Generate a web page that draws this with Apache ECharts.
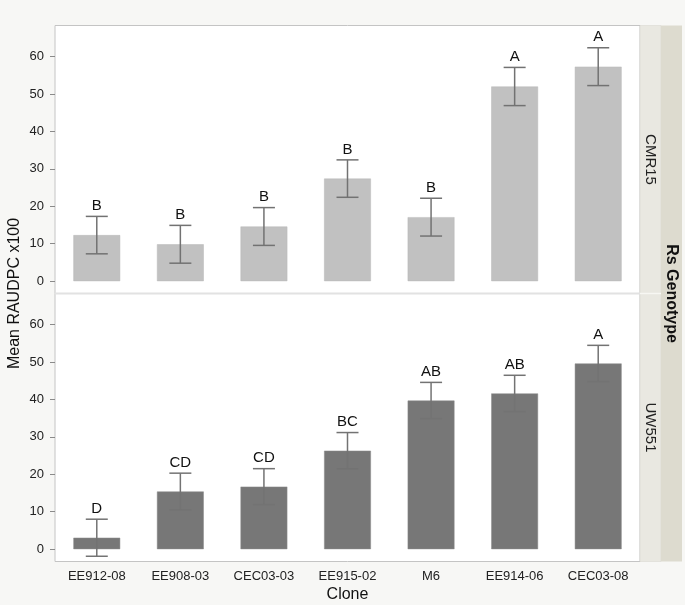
<!DOCTYPE html>
<html><head><meta charset="utf-8">
<script src="https://cdn.jsdelivr.net/npm/echarts@6/dist/echarts.min.js"></script>
<style>html,body{margin:0;padding:0;background:#f7f7f5}#c{width:685px;height:605px}</style>
</head><body><div id="c"></div>
<script>
const clones = ['EE912-08','EE908-03','CEC03-03','EE915-02','M6','EE914-06','CEC03-08'];
const cmr15Mean = [12.3, 9.85, 14.6, 27.4, 17.1, 52.0, 57.3];
const cmr15Err = [5.0, 5.05, 5.05, 5.0, 5.05, 5.1, 5.05];
const cmr15Letters = ['B','B','B','B','B','A','A'];
const uw551Mean = [3.05, 15.4, 16.7, 26.3, 39.7, 41.6, 49.6];
const uw551Err = [4.95, 4.9, 4.8, 4.85, 4.85, 4.85, 4.85];
const uw551Letters = ['D','CD','CD','BC','AB','AB','A'];
const yTicks = [0, 10, 20, 30, 40, 50, 60];
const panels = ['CMR15', 'UW551'];

const FONT = 'Liberation Sans, Arial, sans-serif';
const chart = echarts.init(document.getElementById('c'), null, {renderer: 'canvas'});

function errRender(letters, color) {
  return function (params, api) {
    const i = params.dataIndex;
    const x = api.value(0), m = api.value(1), e = api.value(2);
    const top = api.coord([x, m + e]);
    const bot = api.coord([x, m - e]);
    const half = 11;
    const st = {stroke: color, lineWidth: 1.5};
    return {type: 'group', children: [
      {type: 'line', shape: {x1: top[0], y1: top[1], x2: bot[0], y2: bot[1]}, style: st},
      {type: 'line', shape: {x1: top[0] - half, y1: top[1], x2: top[0] + half, y2: top[1]}, style: st},
      {type: 'line', shape: {x1: bot[0] - half, y1: bot[1], x2: bot[0] + half, y2: bot[1]}, style: st},
      {type: 'text', style: {text: letters[i], x: top[0], y: top[1] - 3, align: 'center', verticalAlign: 'bottom',
        font: '15px ' + FONT, fill: '#111'}}
    ]};
  };
}

const gridTop = 25.5, panelH = 268, gridLeft = 55, gridW = 585;

function yAx(g) {
  return {
    type: 'value', gridIndex: g, min: -3.3, max: 68.3,
    axisLine: {show: false},
    splitLine: {show: false},
    axisTick: {show: true, length: 5, customValues: yTicks, lineStyle: {color: '#8a8a8a'}},
    axisLabel: {customValues: yTicks, color: '#222', fontSize: 13, fontFamily: FONT, margin: 11}
  };
}

chart.setOption({
  backgroundColor: '#f7f7f5',
  animation: false,
  grid: [
    {left: gridLeft, top: gridTop, width: gridW, height: panelH, show: true, backgroundColor: '#fff', borderColor: '#c4c4c4', borderWidth: 1, outerBoundsMode: 'none', containLabel: false},
    {left: gridLeft, top: gridTop + panelH, width: gridW, height: panelH, show: true, backgroundColor: '#fff', borderColor: '#c4c4c4', borderWidth: 1, outerBoundsMode: 'none', containLabel: false}
  ],
  xAxis: [
    {type: 'category', gridIndex: 0, data: clones, axisLine: {show: false}, axisTick: {show: false}, axisLabel: {show: false}},
    {type: 'category', gridIndex: 1, data: clones, axisLine: {show: false}, axisTick: {show: false},
     axisLabel: {color: '#222', fontSize: 13, fontFamily: FONT, margin: 8},
     name: 'Clone', nameLocation: 'middle', nameGap: 25, nameTextStyle: {fontSize: 16, color: '#111', fontFamily: FONT}}
  ],
  yAxis: [yAx(0), yAx(1)],
  series: [
    {type: 'bar', xAxisIndex: 0, yAxisIndex: 0, data: cmr15Mean, barWidth: '56%',
     itemStyle: {color: '#c1c1c1', borderColor: '#b8b8b8', borderWidth: 0.5}},
    {type: 'bar', xAxisIndex: 1, yAxisIndex: 1, data: uw551Mean, barWidth: '56%',
     itemStyle: {color: '#777777', borderColor: '#8a8a8a', borderWidth: 0.5}},
    {type: 'custom', xAxisIndex: 0, yAxisIndex: 0, z: 5, renderItem: errRender(cmr15Letters, '#727272'),
     encode: {x: 0, y: 1}, data: cmr15Mean.map((m, i) => [i, m, cmr15Err[i]])},
    {type: 'custom', xAxisIndex: 1, yAxisIndex: 1, z: 5, renderItem: errRender(uw551Letters, '#737373'),
     encode: {x: 0, y: 1}, data: uw551Mean.map((m, i) => [i, m, uw551Err[i]])}
  ],
  graphic: [
    {type: 'rect', shape: {x: gridLeft + gridW, y: gridTop, width: 21, height: panelH * 2}, style: {fill: '#e9e8e1', stroke: '#d6d5cc', lineWidth: 0.5}},
    {type: 'rect', shape: {x: gridLeft + gridW + 21, y: gridTop, width: 21, height: panelH * 2}, style: {fill: '#dddbcf'}},
    {type: 'line', shape: {x1: gridLeft + gridW, y1: gridTop + panelH, x2: gridLeft + gridW + 21, y2: gridTop + panelH}, style: {stroke: '#f7f7f3', lineWidth: 1.5}},
    {type: 'line', shape: {x1: gridLeft, y1: gridTop + panelH, x2: gridLeft + gridW, y2: gridTop + panelH}, style: {stroke: '#e2e2e2', lineWidth: 2}},
    {type: 'text', x: gridLeft + gridW + 10.5, y: gridTop + panelH / 2, rotation: -Math.PI / 2,
     style: {text: panels[0], align: 'center', verticalAlign: 'middle', font: '15px ' + FONT, fill: '#222'}},
    {type: 'text', x: gridLeft + gridW + 10.5, y: gridTop + panelH * 1.5, rotation: -Math.PI / 2,
     style: {text: panels[1], align: 'center', verticalAlign: 'middle', font: '15px ' + FONT, fill: '#222'}},
    {type: 'text', x: gridLeft + gridW + 31.5, y: gridTop + panelH, rotation: -Math.PI / 2,
     style: {text: 'Rs Genotype', align: 'center', verticalAlign: 'middle', font: 'bold 16px ' + FONT, fill: '#111'}},
    {type: 'text', x: 15, y: gridTop + panelH, rotation: Math.PI / 2,
     style: {text: 'Mean RAUDPC x100', align: 'center', verticalAlign: 'middle', font: '16px ' + FONT, fill: '#111'}}
  ]
});
</script>
</body></html>
